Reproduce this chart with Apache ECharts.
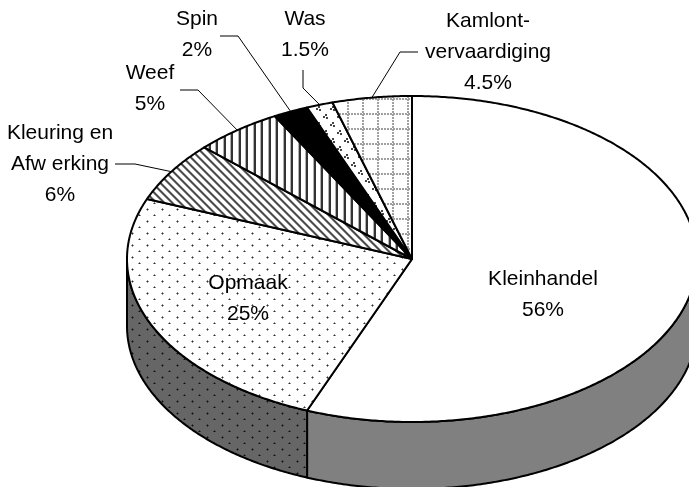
<!DOCTYPE html>
<html>
<head>
<meta charset="utf-8">
<style>
html, body { margin: 0; padding: 0; background: #fff; }
#chart { width: 689px; height: 487px; }
</style>
<script src="https://cdn.jsdelivr.net/npm/echarts@6/dist/echarts.min.js"></script>
</head>
<body>
<div id="chart"></div>
<script>
var categories = ['Kleinhandel', 'Opmaak', 'Kleuring en\nAfw erking', 'Weef', 'Spin', 'Was', 'Kamlont-\nvervaardiging'];
var values = [56, 25, 6, 5, 2, 1.5, 4.5];

// tilted pie geometry
var cx = 412, cy = 259, rx = 285, ry = 163, depth = 67;

// text centre, then leader line start and elbow (null = no leader)
var labelPos = [[543, 295], [248, 299], [60, 164], [150, 89], [197, 35], [305, 35], [488, 52]];
var leaderPos = [null, null, [[115, 164], [135, 164]], [[180, 90], [198, 90]], [[220, 36], [238, 36]], [[303, 70], [303, 88]], [[418, 52], [400, 52]]];

function makePattern(w, h, bg, draw) {
    var c = document.createElement('canvas');
    c.width = w;
    c.height = h;
    var g = c.getContext('2d');
    g.fillStyle = bg;
    g.fillRect(0, 0, w, h);
    draw(g);
    return { image: c, repeat: 'repeat' };
}

function dot(g, x, y, dark, mid) {
    g.fillStyle = mid;
    g.fillRect(x - 1, y, 3, 1);
    g.fillRect(x, y - 1, 1, 3);
    g.fillStyle = dark;
    g.fillRect(x, y, 1, 1);
}

function dots(dark, mid) {
    return function (g) {
        dot(g, 12, 5, dark, mid);
        dot(g, 4, 11, dark, mid);
    };
}

var fills = [
    '#fff',
    makePattern(15, 12, '#fff', dots('#303030', '#909090')),
    makePattern(8, 8, '#fff', function (g) {
        var shades = ['#a0a0a0', '#4a4a4a', '#4a4a4a', '#b0b0b0', '#fff', '#fff', '#fff', '#fff'];
        for (var y = 0; y < 8; y++) {
            for (var x = 0; x < 8; x++) {
                g.fillStyle = shades[(x - y + 8) % 8];
                g.fillRect(x, y, 1, 1);
            }
        }
    }),
    makePattern(15, 8, '#fff', function (g) {
        g.fillStyle = '#b0b0b0';
        g.fillRect(5, 0, 1, 8);
        g.fillRect(13, 0, 1, 8);
        g.fillStyle = '#333';
        g.fillRect(6, 0, 2, 8);
        g.fillRect(14, 0, 1, 8);
        g.fillRect(0, 0, 1, 8);
    }),
    '#000',
    makePattern(14, 16, '#fff', function (g) {
        [[3, 4], [10, 12]].forEach(function (p) {
            g.fillStyle = '#444';
            g.fillRect(p[0], p[1] - 2, 2, 2);
            g.fillRect(p[0] - 2, p[1], 2, 2);
            g.fillRect(p[0] + 1, p[1] + 1, 2, 2);
        });
    }),
    makePattern(15, 15, '#fff', function (g) {
        g.fillStyle = '#a0a0a0';
        for (var i = 0; i < 15; i += 3) {
            g.fillRect(2, i, 2, 2);
            g.fillRect(i, 8, 2, 2);
        }
    })
];
var sideFills = ['#808080', makePattern(15, 12, '#666', dots('#111', '#3a3a3a'))];

var total = values.reduce(function (a, b) { return a + b; }, 0);

// clockwise from the top, on the tilted ellipse
function pointAt(deg, drop) {
    var a = deg * Math.PI / 180;
    return [cx + rx * Math.sin(a), cy - ry * Math.cos(a) + (drop || 0)];
}

function sliceRange(i) {
    var sum = 0;
    for (var k = 0; k < i; k++) sum += values[k];
    return [sum / total * 360, (sum + values[i]) / total * 360];
}

function renderSide(params, api) {
    var i = api.value(0);
    var r = sliceRange(i);
    var from = Math.max(r[0], 90), to = Math.min(r[1], 270);
    if (from >= to) return null;
    var top = [], bottom = [];
    for (var d = from; d < to; d += 0.5) {
        top.push(pointAt(d));
        bottom.unshift(pointAt(d, depth));
    }
    top.push(pointAt(to));
    bottom.unshift(pointAt(to, depth));
    return {
        type: 'polygon',
        shape: { points: top.concat(bottom) },
        style: { fill: sideFills[i], stroke: '#000', lineWidth: 2, lineJoin: 'round' }
    };
}

function renderTop(params, api) {
    var i = api.value(0);
    var r = sliceRange(i);
    var pts = [[cx, cy]];
    for (var d = r[0]; d < r[1]; d += 0.5) pts.push(pointAt(d));
    pts.push(pointAt(r[1]));
    return {
        type: 'polygon',
        shape: { points: pts },
        style: { fill: fills[i], stroke: '#000', lineWidth: 2, lineJoin: 'round' }
    };
}

function renderLabel(params, api) {
    var i = api.value(0);
    var r = sliceRange(i);
    var children = [{
        type: 'text',
        style: {
            text: categories[i] + '\n' + api.value(1) + '%',
            x: labelPos[i][0],
            y: labelPos[i][1],
            align: 'center',
            verticalAlign: 'middle',
            fontFamily: '"Liberation Sans"',
            fontSize: 21,
            lineHeight: 31,
            fill: '#000'
        }
    }];
    if (leaderPos[i]) {
        children.push({
            type: 'polyline',
            shape: { points: leaderPos[i].concat([pointAt((r[0] + r[1]) / 2)]) },
            style: { fill: null, stroke: '#000', lineWidth: 1 }
        });
    }
    return { type: 'group', children: children };
}

var seriesData = values.map(function (v, i) { return [i, v]; });

var chart = echarts.init(document.getElementById('chart'));
chart.setOption({
    animation: false,
    backgroundColor: '#fff',
    series: [
        { type: 'custom', coordinateSystem: 'none', z: 1, silent: true, renderItem: renderSide, data: seriesData },
        { type: 'custom', coordinateSystem: 'none', z: 2, silent: true, renderItem: renderTop, data: seriesData },
        { type: 'custom', coordinateSystem: 'none', z: 3, silent: true, renderItem: renderLabel, data: seriesData }
    ]
});
</script>
</body>
</html>
